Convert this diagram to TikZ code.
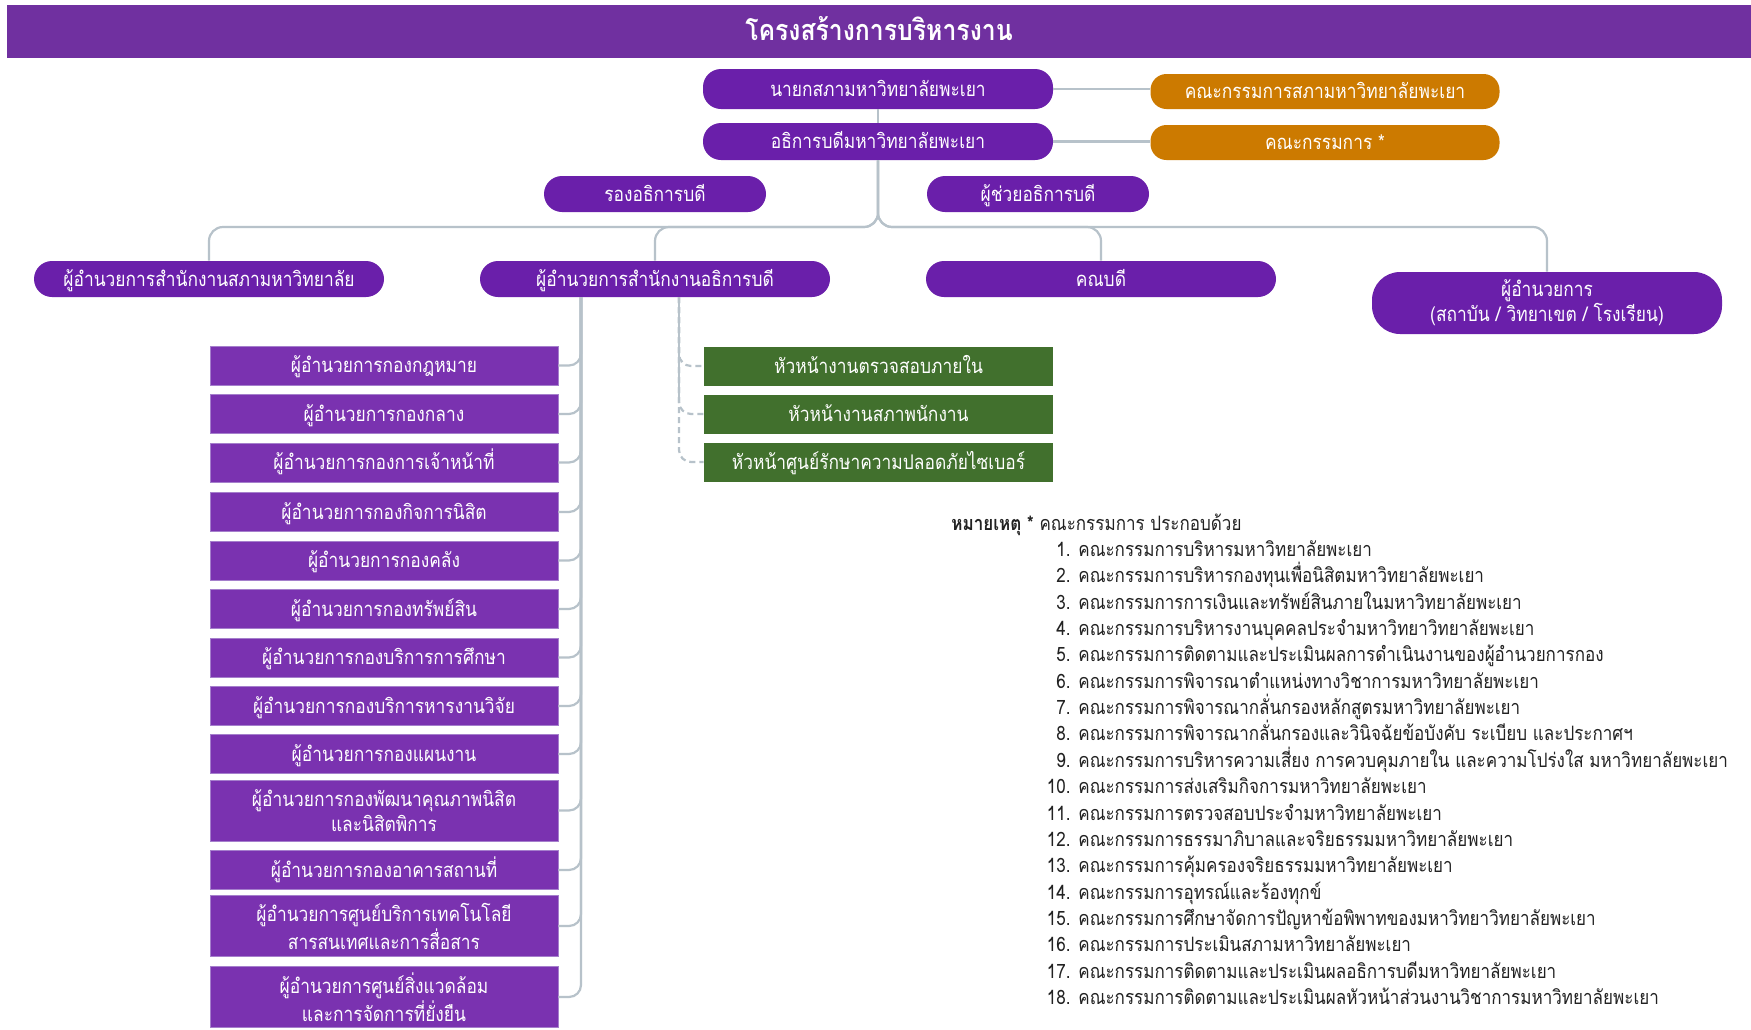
\documentclass[tikz,border=0pt]{standalone}
\usepackage{fontspec}
\setmainfont{Loma}[Script=Thai]
\newfontfamily\thaicond{Loma}[Script=Thai,FakeStretch=0.86]
\definecolor{barc}{HTML}{7030A0}
\definecolor{pillc}{HTML}{6A1FAA}
\definecolor{boxc}{HTML}{7A32B0}
\definecolor{boxedge}{HTML}{A57FCC}
\definecolor{orgc}{HTML}{CC7A00}
\definecolor{grnc}{HTML}{41702D}
\definecolor{linec}{HTML}{B7C2CA}
\definecolor{notec}{HTML}{222222}
\tikzset{
  nodefont/.style={font=\thaicond\fontsize{10.1pt}{12.6pt}\selectfont, text height=9.3pt, text depth=2.2pt},
  pill/.style={nodefont, rounded corners=9pt, fill=pillc, text=white, minimum width=175pt, minimum height=18pt, inner sep=0pt, align=center},
  vpill/.style={pill, minimum width=111pt},
  orgbox/.style={nodefont, rounded corners=8pt, fill=orgc, text=white, minimum width=174.5pt, minimum height=17.5pt, inner sep=0pt},
  grnbox/.style={nodefont, fill=grnc, text=white, minimum width=174.5pt, minimum height=19.5pt, inner sep=0pt},
  dirbox/.style={nodefont, fill=boxc, draw=boxedge, line width=0.4pt, text=white, minimum width=174pt, minimum height=19.5pt, inner sep=0pt, align=center},
  dirbox2/.style={dirbox, minimum height=30.5pt, text height=, text depth=},
  link/.style={draw=linec, line width=1.1pt},
  notefont/.style={font=\thaicond\fontsize{9.9pt}{12pt}\selectfont, text=notec, inner sep=0pt},
}
\begin{document}
\begin{tikzpicture}[x=0.5pt,y=-0.5pt]
\useasboundingbox (0,0) rectangle (1751,1029);
\fill[white] (0,0) rectangle (1751,1029);
% title bar
\fill[barc] (7,5) rectangle (1751,58);
\node[font=\thaicond\bfseries\fontsize{14.4pt}{16pt}\selectfont, text=white] (title) at (879,29) {โครงสร้างการบริหารงาน};

% top level
\node[pill, minimum height=20pt] (n1) at (878,89) {นายกสภามหาวิทยาลัยพะเยา};
\node[orgbox] (o1) at (1325,91.5) {คณะกรรมการสภามหาวิทยาลัยพะเยา};
\node[pill, minimum height=18.5pt] (n2) at (878,141.5) {อธิการบดีมหาวิทยาลัยพะเยา};
\node[orgbox] (o2) at (1325,142.5) {คณะกรรมการ *};
\node[vpill] (v1) at (655,194) {รองอธิการบดี};
\node[vpill] (v2) at (1038,194) {ผู้ช่วยอธิการบดี};

% level 3
\node[pill] (l1) at (209,279) {ผู้อำนวยการสำนักงานสภามหาวิทยาลัย};
\node[pill] (l2) at (655,279) {ผู้อำนวยการสำนักงานอธิการบดี};
\node[pill] (l3) at (1101,279) {คณบดี};
\node[pill, minimum height=31pt, rounded corners=14pt, text height=, text depth=] (l4) at (1547,303) {\raisebox{-1.5pt}{ผู้อำนวยการ}\\\raisebox{-1.5pt}{(สถาบัน / วิทยาเขต / โรงเรียน)}};

% director boxes
\node[dirbox] (b1) at (384,365.5) {ผู้อำนวยการกองกฎหมาย};
\node[dirbox] (b2) at (384,414) {ผู้อำนวยการกองกลาง};
\node[dirbox] (b3) at (384,462.5) {ผู้อำนวยการกองการเจ้าหน้าที่};
\node[dirbox] (b4) at (384,512) {ผู้อำนวยการกองกิจการนิสิต};
\node[dirbox] (b5) at (384,560.5) {ผู้อำนวยการกองคลัง};
\node[dirbox] (b6) at (384,609) {ผู้อำนวยการกองทรัพย์สิน};
\node[dirbox] (b7) at (384,657.5) {ผู้อำนวยการกองบริการการศึกษา};
\node[dirbox] (b8) at (384,706) {ผู้อำนวยการกองบริการหารงานวิจัย};
\node[dirbox] (b9) at (384,754) {ผู้อำนวยการกองแผนงาน};
\node[dirbox2] (b10) at (384,810.5) {ผู้อำนวยการกองพัฒนาคุณภาพนิสิต\\และนิสิตพิการ};
\node[dirbox] (b11) at (384,870) {ผู้อำนวยการกองอาคารสถานที่};
\node[dirbox2] (b12) at (384,926) {ผู้อำนวยการศูนย์บริการเทคโนโลยี\\สารสนเทศและการสื่อสาร};
\node[dirbox2] (b13) at (384,997) {ผู้อำนวยการศูนย์สิ่งแวดล้อม\\และการจัดการที่ยั่งยืน};

% green boxes
\node[grnbox] (g1) at (878.5,366) {หัวหน้างานตรวจสอบภายใน};
\node[grnbox] (g2) at (878.5,414) {หัวหน้างานสภาพนักงาน};
\node[grnbox] (g3) at (878.5,462) {หัวหน้าศูนย์รักษาความปลอดภัยไซเบอร์};

% connectors
\draw[link] (n1.south) -- (n2.north);
\draw[link] (n1.east) -- (n1.east -| o1.west);
\draw[link] (n2.east) -- (n2.east -| o2.west);
\coordinate (fork) at (878,227);
\foreach \t in {l1,l2,l3,l4}{
  \draw[link, rounded corners=7pt] (n2.south) -- (fork) -- (fork -| \t.north) -- (\t.north);
}
\coordinate (lv) at (581,297);
\foreach \t in {b1,b2,b3,b4,b5,b6,b7,b8,b9,b10,b11,b12,b13}{
  \draw[link, rounded corners=6pt] (lv) |- (\t.east);
}
\coordinate (gv) at (679,297);
\coordinate (gvs) at (679,402);
\foreach \t in {g1,g2,g3}{
  \draw[link, dashed, dash pattern=on 3pt off 2pt, rounded corners=6pt] (gv) |- (\t.west);
}
\draw[link] (gv) -- (gvs);

% note
\node[notefont, anchor=base west] (nh) at (951,530) {\textbf{หมายเหตุ *} คณะกรรมการ ประกอบด้วย};
\foreach \i/\txt in {
 1/คณะกรรมการบริหารมหาวิทยาลัยพะเยา,
 2/คณะกรรมการบริหารกองทุนเพื่อนิสิตมหาวิทยาลัยพะเยา,
 3/คณะกรรมการการเงินและทรัพย์สินภายในมหาวิทยาลัยพะเยา,
 4/คณะกรรมการบริหารงานบุคคลประจำมหาวิทยาวิทยาลัยพะเยา,
 5/คณะกรรมการติดตามและประเมินผลการดำเนินงานของผู้อำนวยการกอง,
 6/คณะกรรมการพิจารณาตำแหน่งทางวิชาการมหาวิทยาลัยพะเยา,
 7/คณะกรรมการพิจารณากลั่นกรองหลักสูตรมหาวิทยาลัยพะเยา,
 8/{คณะกรรมการพิจารณากลั่นกรองและวินิจฉัยข้อบังคับ ระเบียบ และประกาศฯ},
 9/{คณะกรรมการบริหารความเสี่ยง การควบคุมภายใน และความโปร่งใส มหาวิทยาลัยพะเยา},
 10/คณะกรรมการส่งเสริมกิจการมหาวิทยาลัยพะเยา,
 11/คณะกรรมการตรวจสอบประจำมหาวิทยาลัยพะเยา,
 12/คณะกรรมการธรรมาภิบาลและจริยธรรมมหาวิทยาลัยพะเยา,
 13/คณะกรรมการคุ้มครองจริยธรรมมหาวิทยาลัยพะเยา,
 14/คณะกรรมการอุทรณ์และร้องทุกข์,
 15/คณะกรรมการศึกษาจัดการปัญหาข้อพิพาทของมหาวิทยาวิทยาลัยพะเยา,
 16/คณะกรรมการประเมินสภามหาวิทยาลัยพะเยา,
 17/คณะกรรมการติดตามและประเมินผลอธิการบดีมหาวิทยาลัยพะเยา,
 18/คณะกรรมการติดตามและประเมินผลหัวหน้าส่วนงานวิชาการมหาวิทยาลัยพะเยา}{
  \pgfmathsetmacro{\yy}{556.5+(\i-1)*26.35}
  \node[notefont, anchor=base east] (num\i) at (1071,\yy) {\i.};
  \node[notefont, anchor=base west] (item\i) at (1078,\yy) {\txt};
}
\end{tikzpicture}
\end{document}
